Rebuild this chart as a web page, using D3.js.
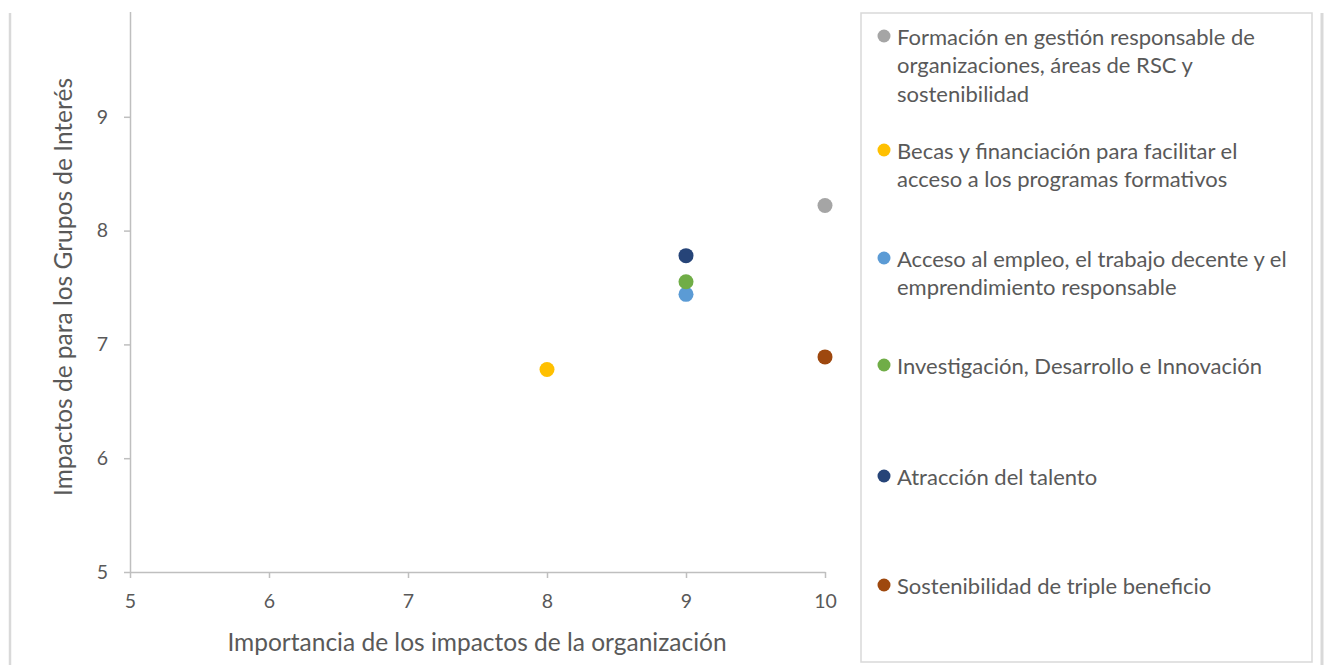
<!DOCTYPE html>
<html>
<head>
<meta charset="utf-8">
<script src="https://cdn.jsdelivr.net/npm/d3@7"></script>
<style>
  body { margin: 0; background: #fff; }
  svg { display: block; font-family: Lato, sans-serif; }
</style>
</head>
<body>
<svg id="chart"></svg>
<script>
// series data
var seriesNames = [
    ["Formación en gestión responsable de", "organizaciones, áreas de RSC y", "sostenibilidad"],
    ["Becas y financiación para facilitar el", "acceso a los programas formativos"],
    ["Acceso al empleo, el trabajo decente y el", "emprendimiento responsable"],
    ["Investigación, Desarrollo e Innovación"],
    ["Atracción del talento"],
    ["Sostenibilidad de triple beneficio"]
];
var importancia = [10, 8, 9, 9, 9, 10];
var impactoGrupos = [8.22, 6.78, 7.44, 7.55, 7.78, 6.89];
var seriesColors = ["#a5a5a5", "#ffc000", "#5b9bd5", "#70ad47", "#264478", "#9e480e"];

var xTicks = [5, 6, 7, 8, 9, 10];
var yTicks = [5, 6, 7, 8, 9];
var xTitle = "Importancia de los impactos de la organización";
var yTitle = "Impactos de para los Grupos de Interés";

var width = 1329, height = 665;
var textColor = "#595959", axisColor = "#bfbfbf", frameColor = "#d9d9d9";

var svg = d3.select("#chart")
    .attr("width", width)
    .attr("height", height);

var x = d3.scaleLinear().domain([5, 10]).range([130, 825]);
var y = d3.scaleLinear().domain([5, 10]).range([572, 3]);

// x axis
svg.append("g")
    .attr("transform", "translate(0," + y(5) + ")")
    .call(d3.axisBottom(x).tickValues(xTicks).tickFormat(d3.format("d"))
        .tickSize(6).tickSizeOuter(0).tickPadding(16))
    .call(g => g.select(".domain").attr("stroke", axisColor).attr("stroke-width", 1.5))
    .call(g => g.selectAll(".tick line").attr("stroke", axisColor).attr("stroke-width", 1.5))
    .call(g => g.selectAll(".tick text").attr("fill", textColor).attr("font-size", 19.5)
        .attr("font-family", "Lato, sans-serif"));

// y axis
svg.append("g")
    .attr("transform", "translate(" + x(5) + ",0)")
    .call(d3.axisLeft(y).tickValues(yTicks).tickFormat(d3.format("d"))
        .tickSize(6).tickSizeOuter(0).tickPadding(16))
    .call(g => g.select(".domain").attr("stroke", axisColor).attr("stroke-width", 1.5))
    .call(g => g.selectAll(".tick line").attr("stroke", axisColor).attr("stroke-width", 1.5))
    .call(g => g.selectAll(".tick text").attr("fill", textColor).attr("font-size", 19.5)
        .attr("font-family", "Lato, sans-serif"));

// axis titles
svg.append("text")
    .attr("x", 477).attr("y", 641)
    .attr("text-anchor", "middle").attr("dominant-baseline", "central")
    .attr("fill", textColor).attr("font-size", 24.5)
    .text(xTitle);

svg.append("text")
    .attr("transform", "translate(62,287) rotate(-90)")
    .attr("text-anchor", "middle").attr("dominant-baseline", "central")
    .attr("fill", textColor).attr("font-size", 24.5)
    .text(yTitle);

// points
svg.append("g").selectAll("circle")
    .data(d3.range(seriesNames.length))
    .join("circle")
    .attr("cx", i => x(importancia[i]))
    .attr("cy", i => y(impactoGrupos[i]))
    .attr("r", 7.5)
    .attr("fill", i => seriesColors[i]);

// top of picture is cropped
svg.append("rect").attr("x", 0).attr("y", 0).attr("width", width).attr("height", 12).attr("fill", "#fff");

// frame lines
svg.append("line").attr("x1", 10).attr("x2", 10).attr("y1", 13).attr("y2", height)
    .attr("stroke", frameColor).attr("stroke-width", 2.5);
svg.append("line").attr("x1", 1322).attr("x2", 1322).attr("y1", 13).attr("y2", height)
    .attr("stroke", frameColor).attr("stroke-width", 3);

// legend
var legendTop = [36, 150, 258, 365, 476, 585];
var lineStep = 28.7;
svg.append("rect")
    .attr("x", 861).attr("y", 13).attr("width", 451).attr("height", 649)
    .attr("fill", "none").attr("stroke", frameColor).attr("stroke-width", 1.5);

var items = svg.append("g").selectAll("g")
    .data(d3.range(seriesNames.length))
    .join("g")
    .attr("transform", i => "translate(0," + legendTop[i] + ")");

items.append("circle")
    .attr("cx", 884).attr("cy", 0).attr("r", 6.5)
    .attr("fill", i => seriesColors[i]);

items.append("text")
    .attr("fill", textColor).attr("font-size", 22)
    .selectAll("tspan")
    .data(i => seriesNames[i])
    .join("tspan")
    .attr("x", 897)
    .attr("y", (d, j) => j * lineStep)
    .attr("dominant-baseline", "central")
    .text(d => d);
</script>
</body>
</html>
